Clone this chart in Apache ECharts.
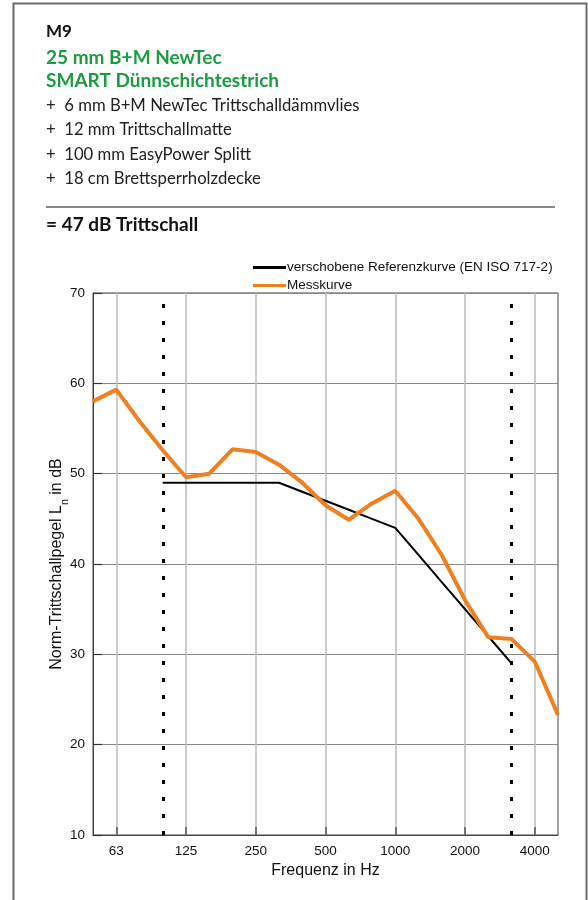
<!DOCTYPE html>
<html>
<head>
<meta charset="utf-8">
<script src="https://cdn.jsdelivr.net/npm/echarts@6/dist/echarts.min.js"></script>
<style>
  html, body { margin: 0; padding: 0; background: #fff; }
  #chart { width: 588px; height: 900px; }
</style>
</head>
<body>
<div id="chart"></div>
<script>
// Terzbänder 50 Hz .. 5000 Hz
const freqs = ['50', '63', '80', '100', '125', '160', '200', '250', '315', '400', '500',
  '630', '800', '1000', '1250', '1600', '2000', '2500', '3150', '4000', '5000'];
// beschriftete Frequenzen an der x-Achse
const tickLabels = ['63', '125', '250', '500', '1000', '2000', '4000'];
// Bewertungsbereich (gepunktete Linien)
const rangeMarks = ['100', '3150'];

// Messkurve
const messkurve = [58.0, 59.3, 55.8, 52.6, 49.6, 50.0, 52.7, 52.4, 51.0, 49.0, 46.5,
  44.9, 46.7, 48.1, 45.0, 41.0, 36.0, 31.9, 31.7, 29.2, 23.3];
// verschobene Referenzkurve (nur 100 .. 3150 Hz)
const referenz = [null, null, null, 49, 49, 49, 49, 49, 49, 48, 47,
  46, 45, 44, 41, 38, 35, 32, 29, null, null];

const yTicks = [10, 20, 30, 40, 50, 60, 70];

const header = [
  { text: 'M9', y: 32, color: '#111', size: 17, weight: 'bold' },
  { text: '25 mm B+M NewTec', y: 58, color: '#1b9c40', size: 19, weight: 'bold' },
  { text: 'SMART Dünnschichtestrich', y: 81, color: '#1b9c40', size: 19, weight: 'bold' },
  { text: '+  6 mm B+M NewTec Trittschalldämmvlies', y: 106, color: '#222', size: 16.7, weight: 'normal' },
  { text: '+  12 mm Trittschallmatte', y: 130, color: '#222', size: 16.7, weight: 'normal' },
  { text: '+  100 mm EasyPower Splitt', y: 155, color: '#222', size: 16.7, weight: 'normal' },
  { text: '+  18 cm Brettsperrholzdecke', y: 179, color: '#222', size: 16.7, weight: 'normal' },
  { text: '= 47 dB Trittschall', y: 225, color: '#111', size: 19, weight: 'bold' }
];

const isTick = (idx, val) => tickLabels.indexOf(val) >= 0;

const chart = echarts.init(document.getElementById('chart'));

const graphic = [
  // Rahmen
  { type: 'rect', left: 11, top: 1, shape: { width: 573, height: 905 },
    style: { fill: 'none', stroke: '#6a6a6a', lineWidth: 2 }, silent: true },
  { type: 'line', shape: { x1: 46, y1: 207, x2: 555, y2: 207 },
    style: { stroke: '#111', lineWidth: 1.2 } }
];
header.forEach(h => {
  graphic.push({
    type: 'text', x: 46, y: h.y,
    style: { text: h.text, fill: h.color, fontFamily: 'Lato', fontSize: h.size,
      fontWeight: h.weight, verticalAlign: 'middle', align: 'left' }
  });
});

const option = {
  animation: false,
  textStyle: { fontFamily: '"Liberation Sans", Arial, sans-serif' },
  graphic: graphic,
  legend: {
    left: 248, top: 255,
    orient: 'vertical',
    icon: 'rect',
    itemWidth: 33, itemHeight: 3, itemGap: 3,
    textStyle: { fontSize: 13.5, color: '#111', lineHeight: 15, padding: [0, 0, 0, -4] },
    data: ['verschobene Referenzkurve (EN ISO 717-2)', 'Messkurve']
  },
  grid: {
    left: 93, right: 30, top: 293, bottom: 65,
    show: true, borderColor: '#444', borderWidth: 1
  },
  xAxis: {
    type: 'category',
    data: freqs,
    boundaryGap: false,
    name: 'Frequenz in Hz',
    nameLocation: 'middle',
    nameGap: 26,
    nameTextStyle: { fontSize: 16, color: '#111' },
    axisLine: { lineStyle: { color: '#444' } },
    axisTick: { inside: true, length: 8, interval: isTick, lineStyle: { color: '#555', width: 1.5 } },
    axisLabel: { interval: isTick, color: '#111', fontSize: 13.5, margin: 9 },
    splitLine: { show: true, interval: isTick, lineStyle: { color: '#bbb', width: 1.5 } }
  },
  yAxis: {
    type: 'value',
    min: yTicks[0], max: yTicks[yTicks.length - 1], interval: 10,
    name: 'Norm-Trittschallpegel L{sub|n} in dB',
    nameLocation: 'middle',
    nameRotate: 90,
    nameGap: 28,
    nameMoveOverlap: false,
    nameTextStyle: {
      fontSize: 16, color: '#111',
      rich: { sub: { fontSize: 10.5, color: '#111', verticalAlign: 'bottom', padding: [0, 0, -6, 0] } }
    },
    axisLine: { show: true, lineStyle: { color: '#444' } },
    axisTick: { show: true, inside: true, length: 9, lineStyle: { color: '#333', width: 1.2 } },
    axisLabel: { color: '#111', fontSize: 13.5, margin: 8 },
    splitLine: { lineStyle: { color: '#888', width: 1 } }
  },
  series: [
    {
      name: 'verschobene Referenzkurve (EN ISO 717-2)',
      type: 'line',
      data: referenz,
      symbol: 'none',
      z: 3,
      itemStyle: { color: '#000' },
      lineStyle: { color: '#000', width: 2 },
      markLine: {
        silent: true,
        symbol: 'none',
        label: { show: false },
        lineStyle: { color: '#000', type: [4, 13], width: 3 },
        data: rangeMarks.map(f => ({ xAxis: f }))
      }
    },
    {
      name: 'Messkurve',
      type: 'line',
      data: messkurve,
      symbol: 'none',
      z: 4,
      itemStyle: { color: '#ef8020' },
      lineStyle: { color: '#ef8020', width: 4 }
    }
  ]
};

chart.setOption(option);
</script>
</body>
</html>
